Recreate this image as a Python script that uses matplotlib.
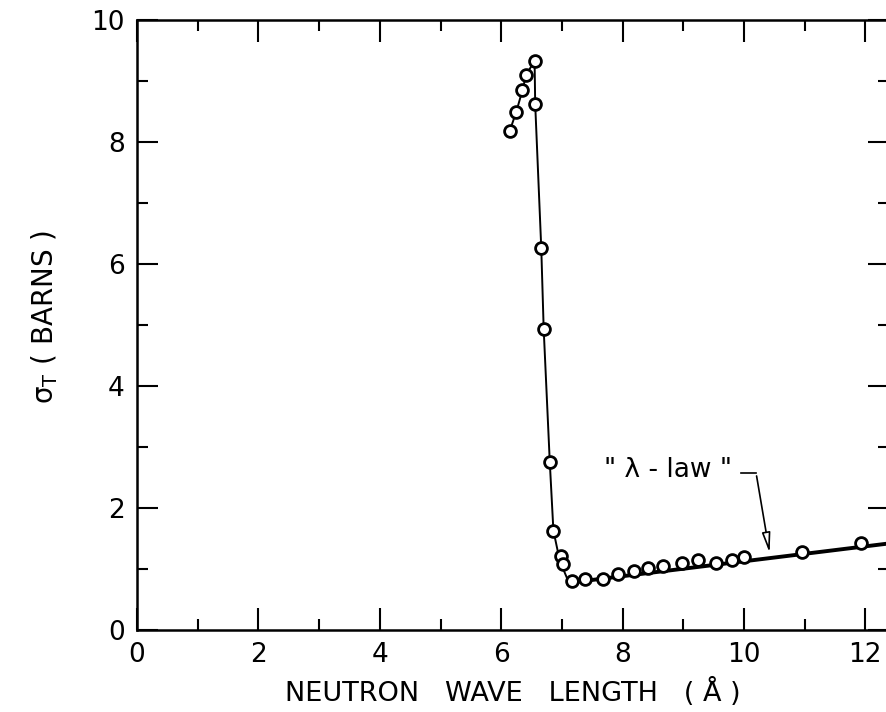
import matplotlib
matplotlib.use('Agg')
import matplotlib.pyplot as plt
from matplotlib.ticker import MultipleLocator

# measured total cross section (open circles)
wavelength = [6.14, 6.25, 6.35, 6.41, 6.55, 6.56, 6.66, 6.70, 6.80, 6.86, 6.98, 7.01,
              7.17, 7.38, 7.67, 7.92, 8.18, 8.42, 8.67, 8.98, 9.25, 9.54, 9.81, 10.0,
              10.95, 11.92]
sigma = [8.18, 8.50, 8.85, 9.10, 9.33, 8.62, 6.26, 4.93, 2.76, 1.63, 1.22, 1.08,
         0.80, 0.83, 0.83, 0.91, 0.96, 1.01, 1.05, 1.09, 1.15, 1.10, 1.15, 1.20,
         1.28, 1.42]

# hand-drawn curve through the points
curve_x = [6.14, 6.25, 6.35, 6.41, 6.55, 6.56, 6.66, 6.70, 6.80, 6.86, 6.93, 7.00, 7.08, 7.17]
curve_y = [8.18, 8.50, 8.85, 9.10, 9.33, 8.62, 6.26, 4.93, 2.76, 1.63, 1.30, 1.05, 0.86, 0.78]

# "lambda-law" line
law_x = [7.17, 12.4]
law_y = [0.78, 1.42]

plt.rcParams['font.family'] = ['DejaVu Sans']

fig = plt.figure(figsize=(8.87, 7.12), dpi=100)
ax = fig.add_axes([0.1545, 0.1152, 0.8478, 0.8567])

ax.plot(curve_x, curve_y, color='black', lw=1.4, zorder=2)
ax.plot(law_x, law_y, color='black', lw=2.8, zorder=2)
ax.plot(wavelength, sigma, 'o', ms=8.5, mfc='white', mec='black', mew=2.0, zorder=3)

ax.text(8.74, 2.62, '" \u03bb - law "', fontsize=19, ha='center', va='center')
ax.plot([9.95, 10.2], [2.57, 2.57], color='black', lw=1.2)
ax.annotate('', xy=(10.43, 1.22), xytext=(10.2, 2.57),
            arrowprops=dict(arrowstyle='-|>,head_length=1.2,head_width=0.25',
                            fc='white', ec='black', lw=1.2))

ax.set_xlim(0, 12.39)
ax.set_ylim(0, 10)
ax.xaxis.set_major_locator(MultipleLocator(2))
ax.xaxis.set_minor_locator(MultipleLocator(1))
ax.yaxis.set_major_locator(MultipleLocator(2))
ax.yaxis.set_minor_locator(MultipleLocator(1))
ax.tick_params(which='both', direction='in', top=True, right=True, width=1.5,
               labelsize=19, pad=9)
ax.tick_params(which='major', length=15)
ax.tick_params(which='minor', length=8)
ax.tick_params(axis='x', which='major', top=True, length=16)
for s in ax.spines.values():
    s.set_linewidth(1.8)

ax.set_xlabel('NEUTRON   WAVE   LENGTH   ( \u00c5 )', fontsize=19.5, labelpad=7)
fig.text(0.050, 0.555, '\u03c3$_{\\mathrm{T}}$ ( BARNS )', fontsize=20,
         rotation=90, ha='center', va='center')

fig.savefig('out.png', dpi=100)
